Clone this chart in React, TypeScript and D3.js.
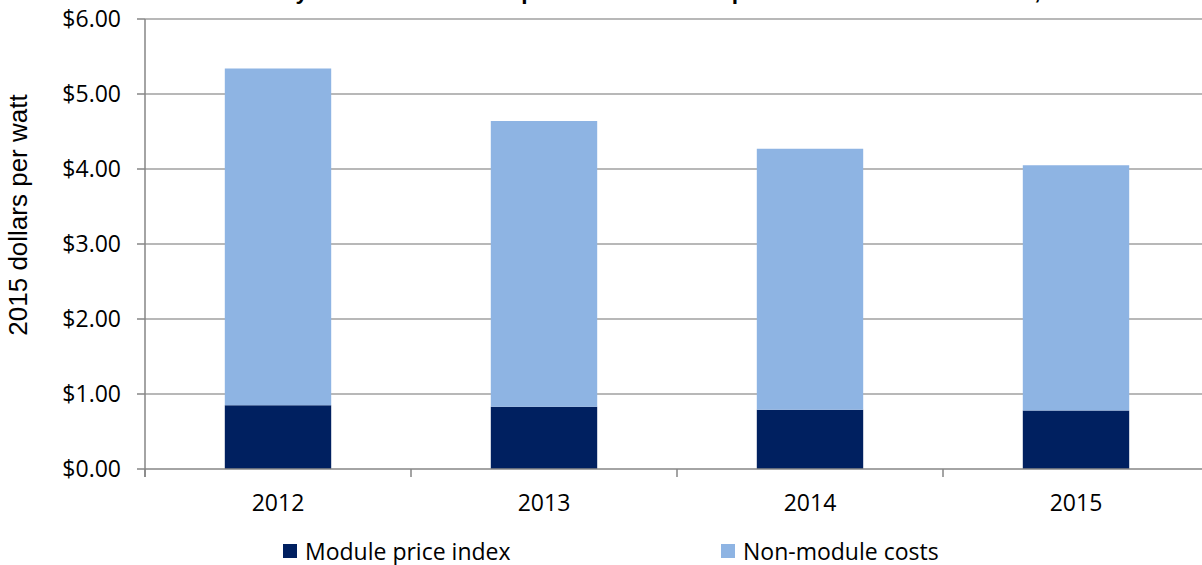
import { useEffect, useRef } from 'react'
import * as d3 from 'd3'

// Values (2015 dollars per watt)
const years = ['2012', '2013', '2014', '2015']
const modulePrice = [0.85, 0.83, 0.79, 0.78]
const nonModuleCosts = [4.49, 3.81, 3.48, 3.27]
const yTicks = [0, 1, 2, 3, 4, 5, 6]
const seriesNames = ['Module price index', 'Non-module costs']
const seriesColors = ['#002060', '#8EB4E3']

const App = () => {
	const svgRef = useRef(null)

	useEffect(() => {
		document.body.style.margin = '0'
		document.body.style.overflow = 'hidden'

		const width = 1202
		const height = 565
		const left = 145
		const top = 19
		const bottom = 469
		const right = left + 266 * years.length

		const svg = d3.select(svgRef.current)
		svg.selectAll('*').remove()
		svg.attr('width', width).attr('height', height)

		const x = d3
			.scaleBand()
			.domain(years)
			.range([left, right])
			.paddingInner(0.6)
			.paddingOuter(0.3)
		const y = d3.scaleLinear().domain([0, 6]).range([bottom, top])

		// Title, mostly cut off at the top edge
		svg
			.append('text')
			.attr('x', 119)
			.attr('y', -1)
			.style('font-family', '"Liberation Sans", Arial, sans-serif')
			.style('font-weight', 'bold')
			.style('font-size', '22.7px')
			.text(
				'Residential PV system total cost components \u2014 module price and non-module costs, 2012\u20132015'
			)

		// Gridlines
		svg
			.append('g')
			.selectAll('line')
			.data(yTicks.filter((d) => d > 0))
			.enter()
			.append('line')
			.attr('x1', left)
			.attr('x2', right)
			.attr('y1', (d) => y(d))
			.attr('y2', (d) => y(d))
			.attr('stroke', '#a0a0a0')
			.attr('stroke-width', 1.5)

		// Stacked bars
		const stacked = d3
			.stack()
			.keys(['module', 'nonModule'])(
				years.map((yr, i) => ({
					year: yr,
					module: modulePrice[i],
					nonModule: nonModuleCosts[i],
				}))
			)

		svg
			.append('g')
			.selectAll('g')
			.data(stacked)
			.enter()
			.append('g')
			.attr('fill', (d, i) => seriesColors[i])
			.selectAll('rect')
			.data((d) => d)
			.enter()
			.append('rect')
			.attr('x', (d) => x(d.data.year))
			.attr('width', x.bandwidth())
			.attr('y', (d) => y(d[1]))
			.attr('height', (d) => y(d[0]) - y(d[1]))

		// Axes lines and ticks
		const axis = svg.append('g').attr('stroke', '#868686').attr('stroke-width', 1.5)
		axis
			.append('line')
			.attr('x1', left)
			.attr('x2', right)
			.attr('y1', bottom)
			.attr('y2', bottom)
		axis
			.append('line')
			.attr('x1', left)
			.attr('x2', left)
			.attr('y1', top)
			.attr('y2', bottom + 8)
		axis
			.selectAll('.ytick')
			.data(yTicks)
			.enter()
			.append('line')
			.attr('x1', left - 8)
			.attr('x2', left)
			.attr('y1', (d) => y(d))
			.attr('y2', (d) => y(d))
		axis
			.selectAll('.xtick')
			.data(d3.range(years.length + 1))
			.enter()
			.append('line')
			.attr('x1', (i) => left + x.step() * i)
			.attr('x2', (i) => left + x.step() * i)
			.attr('y1', bottom)
			.attr('y2', bottom + 8)

		// Y tick labels
		svg
			.append('g')
			.selectAll('text')
			.data(yTicks)
			.enter()
			.append('text')
			.attr('x', left - 24)
			.attr('y', (d) => y(d))
			.attr('dy', '0.35em')
			.attr('text-anchor', 'end')
			.style('font-family', '"Open Sans", sans-serif')
			.style('font-size', '23px')
			.text((d) => d3.format('$.2f')(d))

		// X labels
		svg
			.append('g')
			.selectAll('text')
			.data(years)
			.enter()
			.append('text')
			.attr('x', (d) => x(d) + x.bandwidth() / 2)
			.attr('y', 511)
			.attr('text-anchor', 'middle')
			.style('font-family', '"Open Sans", sans-serif')
			.style('font-size', '23px')
			.text((d) => d)

		// Y axis title
		svg
			.append('text')
			.attr('transform', 'translate(27,215) rotate(-90)')
			.attr('text-anchor', 'middle')
			.style('font-family', '"Liberation Sans", Arial, sans-serif')
			.style('font-size', '26px')
			.text('2015 dollars per watt')

		// Legend
		const legendX = [283, 721]
		const legend = svg
			.append('g')
			.selectAll('g')
			.data(seriesNames)
			.enter()
			.append('g')
			.attr('transform', (d, i) => `translate(${legendX[i]},544)`)
		legend
			.append('rect')
			.attr('width', 14)
			.attr('height', 14)
			.attr('fill', (d, i) => seriesColors[i])
		legend
			.append('text')
			.attr('x', 22)
			.attr('y', 16)
			.style('font-family', '"Open Sans", sans-serif')
			.style('font-size', '23px')
			.text((d) => d)
	}, [])

	return <svg ref={svgRef} style={{ display: 'block' }}></svg>
}

export default App
